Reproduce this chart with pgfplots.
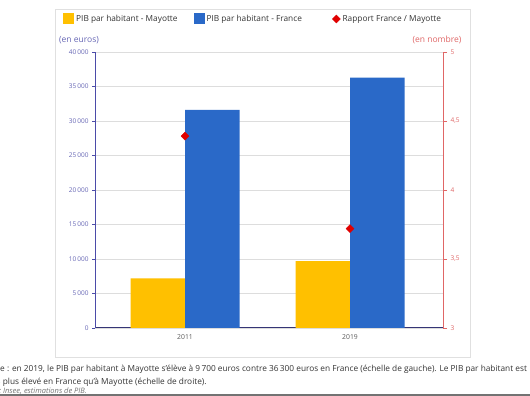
\documentclass[border=0pt]{standalone}
\usepackage{pgfplots}
\pgfplotsset{compat=1.18}
\usepackage{fontspec}
\setmainfont{Open Sans}
\definecolor{ymay}{HTML}{FFC000}
\definecolor{bfr}{HTML}{2A69C8}
\definecolor{rrap}{HTML}{E00000}
\definecolor{laxis}{HTML}{4B4BA8}
\definecolor{raxis}{HTML}{E06666}
\definecolor{gridc}{HTML}{DDDDDD}
\definecolor{captc}{HTML}{333333}

\begin{document}
\begin{tikzpicture}[x=1pt,y=1pt]
\useasboundingbox (0,0) rectangle (530,396);
\fill[white] (0,0) rectangle (530,396);
\draw[draw=black!12, line width=0.6pt] (55,39) rectangle (470,387);

\begin{axis}[
  at={(95pt,68pt)}, anchor=south west, scale only axis,
  width=348pt, height=276pt,
  xmin=-0.5455, xmax=1.5636, ymin=0, ymax=40000,
  ybar=0pt, bar width=54.5pt,
  xtick={0,1}, xticklabels={2011,2019},
  ytick={0,5000,...,40000},
  ymajorgrids, major grid style={gridc, line width=0.6pt},
  axis x line*=bottom, axis y line*=left,
  x axis line style={draw=laxis!70!black, line width=1pt, -},
  y axis line style={draw=laxis, line width=0.8pt, -},
  x tick style={draw=none},
  y tick style={draw=laxis, line width=0.6pt},
  tick align=outside, major tick length=3pt,
  x tick label style={font=\fontsize{6.8}{8}\selectfont, text=black!65},
  y tick label style={font=\fontsize{6.5}{8}\selectfont, text=laxis!85},
  /pgf/number format/.cd, 1000 sep={\,}, assume math mode=true, /pgfplots/.cd,
  scaled y ticks=false,
  clip=false,
  legend style={at={(axis description cs:-0.1006,1.1196)}, anchor=west,
    draw=none, fill=none, font=\fontsize{8.3}{10}\selectfont, text=black!80,
    /tikz/every even column/.append style={column sep=14pt}},
  legend columns=3,
]
\addplot[fill=ymay, draw=none,
  legend image code/.code={\fill[ymay] (0pt,-5.5pt) rectangle (11pt,5.5pt);}]
  coordinates {(0,7200) (1,9700)};
\addlegendentry{PIB par habitant - Mayotte}
\addplot[fill=bfr, draw=none,
  legend image code/.code={\fill[bfr] (0pt,-5.5pt) rectangle (11pt,5.5pt);}]
  coordinates {(0,31600) (1,36300)};
\addlegendentry{PIB par habitant - France}
\addlegendimage{legend image code/.code={\path[draw=none,fill=none] (0pt,0pt) rectangle (11pt,0.1pt); \fill[rrap] (18.5pt,-4pt) -- (22.5pt,0pt) -- (18.5pt,4pt) -- (14.5pt,0pt) -- cycle;}}
\addlegendentry{Rapport France / Mayotte}
\end{axis}

\begin{axis}[
  at={(95pt,68pt)}, anchor=south west, scale only axis,
  width=348pt, height=276pt,
  xmin=-0.5455, xmax=1.5636, ymin=3, ymax=5,
  axis x line=none, axis y line*=right,
  ytick={3,3.5,...,5},
  y axis line style={draw=raxis, line width=0.8pt, -},
  y tick style={draw=raxis, line width=0.6pt},
  tick align=outside, major tick length=4pt,
  y tick label style={font=\fontsize{6.5}{8}\selectfont, text=raxis},
  /pgf/number format/.cd, use comma, assume math mode=true, /pgfplots/.cd,
  clip=false,
]
\addplot[only marks, mark=square*, mark size=2.8pt, mark options={rotate=45}, color=rrap]
  coordinates {(0,4.39) (1,3.72)};
\end{axis}

\node[font=\fontsize{8.5}{10}\selectfont, text=laxis!85] at (79,356) {(en euros)};
\node[font=\fontsize{8.5}{10}\selectfont, text=raxis] at (437,356) {(en nombre)};

\node[anchor=base west, inner sep=0pt, font=\fontsize{8.3}{10}\selectfont, text=captc] at (0,24)
  {\llap{Lectur}e : en 2019, le PIB par habitant à Mayotte s’élève à 9\,700 euros contre 36\,300 euros en France (échelle de gauche). Le PIB par habitant est};
\node[anchor=base west, inner sep=0pt, font=\fontsize{8.3}{10}\selectfont, text=captc] at (0.5,11)
  {\llap{3,7 fois}\ plus élevé en France qu’à Mayotte (échelle de droite).};
\node[anchor=base west, inner sep=0pt, font=\fontsize{7.5}{9}\itshape, text=black!55] at (1,2.5)
  {\llap{Source :}\ Insee, estimations de PIB.};
\fill[black!55] (0,0) rectangle (530,2);
\end{tikzpicture}
\end{document}
